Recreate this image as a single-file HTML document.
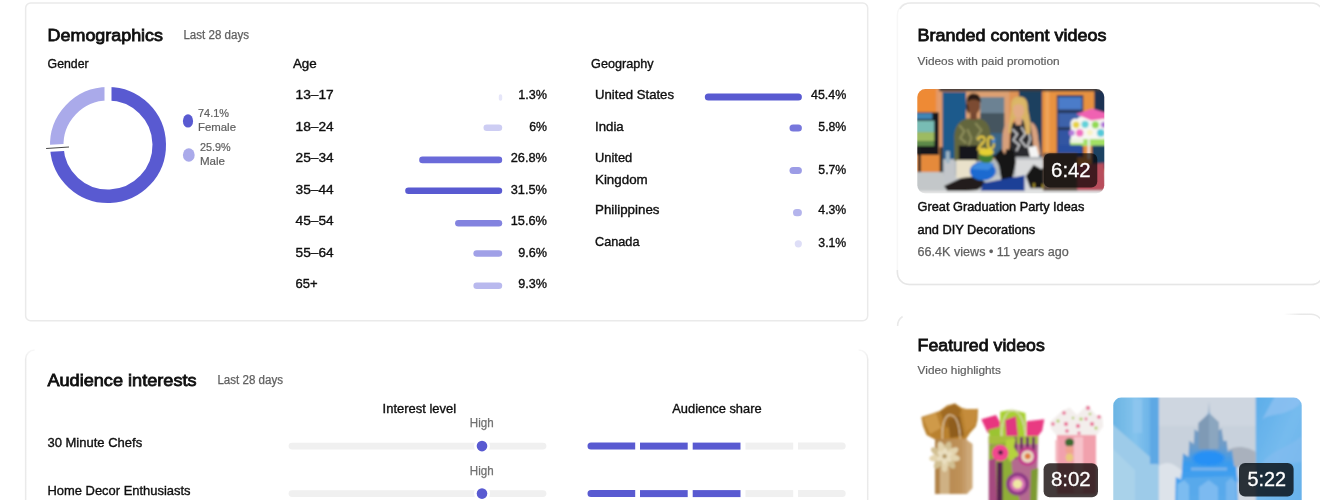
<!DOCTYPE html>
<html lang="en">
<head>
<meta charset="utf-8">
<title>Audience analytics</title>
<style>
html,body{margin:0;padding:0;background:#fff;}
body{width:1320px;height:500px;overflow:hidden;}
svg{display:block;}
text{font-family:"Liberation Sans",sans-serif;}
</style>
</head>
<body>
<svg width="1320" height="500" viewBox="0 0 1320 500">
<g id="shapes">
<rect x="25.65" y="3" width="842.05" height="317.8" rx="5" fill="#fff" stroke="#eaeaea" stroke-width="1.5"/>
<defs><linearGradient id="ag" x1="0" x2="0" y1="349" y2="360" gradientUnits="userSpaceOnUse"><stop offset="0" stop-color="#eaeaea" stop-opacity="0.3"/><stop offset="1" stop-color="#eaeaea"/></linearGradient></defs>
<path d="M34.6 350 A9 9 0 0 0 25.65 359 V520" fill="none" stroke="url(#ag)" stroke-width="1.5"/>
<path d="M858.7 350 A9 9 0 0 1 867.7 359 V520" fill="none" stroke="url(#ag)" stroke-width="1.5"/>
<rect x="897.4" y="3" width="426" height="281.6" rx="12" fill="#fff" stroke="#f7f7f7" stroke-width="1.5"/>
<path d="M900 9 Q903 3 911 3 H1311.4 a12 12 0 0 1 12 12" fill="none" stroke="#e9e9e9" stroke-width="1.5"/>
<path d="M897.4 270 v2.6 a12 12 0 0 0 12 12 H1311.4 a12 12 0 0 0 12 -12" fill="none" stroke="#e6e6e6" stroke-width="1.5"/>
<path d="M897.6 326 a11 11 0 0 1 5 -9.5" fill="none" stroke="#e9e9e9" stroke-width="1.5"/>
<defs><linearGradient id="fg" x1="1284" x2="1300" y1="0" y2="0" gradientUnits="userSpaceOnUse"><stop offset="0" stop-color="#e8e8e8" stop-opacity="0"/><stop offset="1" stop-color="#e8e8e8"/></linearGradient></defs>
<path d="M1284 314.2 H1311 a12 12 0 0 1 12 12" fill="none" stroke="url(#fg)" stroke-width="1.5"/>
<path d="M108.00 93.75 A51.25 51.25 0 1 1 56.83 147.90" fill="none" stroke="#595ad1" stroke-width="13.5"/>
<path d="M56.83 147.90 A51.25 51.25 0 0 1 108.00 93.75" fill="none" stroke="#aaaaea" stroke-width="13.5"/>
<line x1="108.00" y1="105.00" x2="108.00" y2="83.00" stroke="#fff" stroke-width="7"/>
<line x1="68.06" y1="147.26" x2="46.10" y2="148.50" stroke="#fff" stroke-width="7"/>
<line x1="46.1" y1="148.5" x2="69" y2="147" stroke="#3c3c3c" stroke-width="0.95"/>
<ellipse cx="188" cy="120.9" rx="5.1" ry="6.7" fill="#595ad1"/>
<ellipse cx="188.8" cy="155" rx="5.9" ry="6.7" fill="#aaaaea"/>
<rect x="498.8" y="94.2" width="3.4" height="6.6" rx="1.70" fill="#e6e6f9"/>
<rect x="483.5" y="124.4" width="18.7" height="6.6" rx="3.30" fill="#cdcdf3"/>
<rect x="419.2" y="156.6" width="83.0" height="6.6" rx="3.30" fill="#6a6ad9"/>
<rect x="405.2" y="187.5" width="97.0" height="6.6" rx="3.30" fill="#595ad1"/>
<rect x="455.1" y="220.0" width="47.1" height="6.6" rx="3.30" fill="#8383df"/>
<rect x="473.4" y="250.2" width="28.8" height="6.6" rx="3.30" fill="#a0a0e7"/>
<rect x="473.4" y="282.5" width="28.8" height="6.6" rx="3.30" fill="#b9b9ee"/>
<rect x="704.8" y="93.4" width="97.1" height="7.2" rx="3.60" fill="#595ad1"/>
<rect x="789.5" y="124.4" width="12.4" height="7.2" rx="3.60" fill="#7777dc"/>
<rect x="789.5" y="166.9" width="12.4" height="7.2" rx="3.60" fill="#9c9ce6"/>
<rect x="793.0" y="209.1" width="8.9" height="7.2" rx="3.60" fill="#b4b4ec"/>
<rect x="794.7" y="240.2" width="7.2" height="7.2" rx="3.60" fill="#dedef7"/>
<rect x="288.6" y="442.7" width="257.8" height="6.8" rx="3.4" fill="#f0f0f0"/>
<circle cx="482" cy="446.1" r="8" fill="#fff"/>
<circle cx="482" cy="446.1" r="5.3" fill="#595ad1"/>
<path d="M591.0 442.6 H635.2 V449.6 H591.0 a3.5 3.5 0 0 1 0 -7 z" fill="#595ad1"/>
<rect x="640" y="442.6" width="47.7" height="7" fill="#595ad1"/>
<rect x="692.7" y="442.6" width="47.8" height="7" fill="#595ad1"/>
<rect x="745.5" y="442.6" width="47.7" height="7" fill="#f0f0f0"/>
<path d="M798 442.6 H842.2 a3.5 3.5 0 0 1 0 7 H798 z" fill="#f0f0f0"/>
<rect x="288.6" y="490.2" width="257.8" height="6.8" rx="3.4" fill="#f0f0f0"/>
<circle cx="482" cy="493.6" r="8" fill="#fff"/>
<circle cx="482" cy="493.6" r="5.3" fill="#595ad1"/>
<path d="M591.0 490.1 H635.2 V497.1 H591.0 a3.5 3.5 0 0 1 0 -7 z" fill="#595ad1"/>
<rect x="640" y="490.1" width="47.7" height="7" fill="#595ad1"/>
<rect x="692.7" y="490.1" width="47.8" height="7" fill="#595ad1"/>
<rect x="745.5" y="490.1" width="47.7" height="7" fill="#f0f0f0"/>
<path d="M798 490.1 H842.2 a3.5 3.5 0 0 1 0 7 H798 z" fill="#f0f0f0"/>
</g>
<defs>
<clipPath id="c1"><rect x="0" y="0" width="187" height="104.2" rx="8"/></clipPath>
<filter id="bl" x="-5%" y="-5%" width="110%" height="110%"><feGaussianBlur stdDeviation="0.9"/></filter>
<filter id="bl2" x="-10%" y="-10%" width="120%" height="120%"><feGaussianBlur stdDeviation="1.3"/></filter>
</defs>
<!-- thumbnail 1 : TV studio -->
<g transform="translate(917.3,89.1)" clip-path="url(#c1)">
<g filter="url(#bl)">
<rect x="-3" y="-3" width="193" height="110" fill="#e28b45"/>
<!-- left wall -->
<rect x="-3" y="0" width="22" height="60" fill="#ee8a36"/>
<rect x="19" y="0" width="6" height="60" fill="#e39a6a"/>
<!-- blue panel left -->
<rect x="25.2" y="3" width="23.5" height="80" fill="#1d5a8c"/>
<!-- peach wall behind woman 1 -->
<rect x="48.7" y="0" width="44" height="70" fill="#dda072"/>
<!-- painting -->
<rect x="63" y="8" width="24" height="38" fill="#6c8293"/>
<rect x="63" y="24" width="24" height="22" fill="#44555f"/>
<!-- navy panel -->
<rect x="101" y="0" width="24" height="80" fill="#1f3f5f"/>
<rect x="92" y="0" width="9.5" height="60" fill="#df9355"/>
<!-- orange panel right -->
<rect x="125" y="0" width="52" height="80" fill="#e8923f"/>
<rect x="128" y="0" width="4" height="80" fill="#f0a55a"/>
<!-- window right -->
<rect x="139.5" y="6" width="26.5" height="62" fill="#27385c"/>
<rect x="141" y="8" width="23.5" height="12.5" fill="#4c7cc9"/>
<rect x="141" y="24" width="23.5" height="14" fill="#3c62aa"/>
<rect x="141" y="41" width="23.5" height="24" fill="#3355a2"/>
<!-- far right dark -->
<rect x="177" y="0" width="12" height="80" fill="#1f3252"/>
<!-- top dark strip -->
<rect x="22" y="-2" width="170" height="4.2" fill="#3b3a3e"/>
<!-- monitor -->
<rect x="-2" y="23.3" width="23.5" height="42.5" fill="#17191c"/>
<rect x="-2" y="24" width="17" height="6" fill="#3f86b6"/>
<rect x="-2" y="31.5" width="19" height="12" fill="#78bcb4"/>
<rect x="-2" y="43" width="19" height="9" fill="#9dbb62"/>
<rect x="-2" y="52" width="19" height="5" fill="#5d8a4a"/>
<rect x="4.5" y="66.5" width="18" height="15" fill="#e58a3a"/>
<rect x="0.8" y="58" width="2.6" height="40" fill="#1c1c1f"/>
<rect x="22.5" y="58" width="2.6" height="32" fill="#1c1c1f"/>
<!-- table -->
<path d="M6 84 l3 14 M14 84 l-2 14 M20 86 l4 12" stroke="#2a2a2c" stroke-width="1.8" fill="none"/>
<rect x="-3" y="83" width="193" height="24" fill="#c3c7c9"/>
<rect x="26" y="70" width="100" height="16" fill="#b4b9bd"/>
<rect x="72" y="44" width="15" height="24" fill="#3b6585"/>
<!-- woman 1 -->
<path d="M37 52 C36 38 42 31 50 29.5 L62 29.5 C70 31 74 38 73.5 52 L73.5 72 L37 72 Z" fill="#64663e"/>
<path d="M42 36 l5 6 l-4 7 l6 5 M58 34 l6 7 l-5 8 l7 6 M50 40 l4 9 l-3 9" stroke="#8b8c5a" stroke-width="2.2" fill="none"/>
<ellipse cx="56.3" cy="16.5" rx="6.6" ry="9.2" fill="#7b4b31"/>
<path d="M49.3 14 C49 6 53 4.5 56.5 4.5 C61 4.5 64 7.5 63.4 14 C61 9.5 52.5 9 49.3 14 Z" fill="#2a1b16"/>
<path d="M49.5 13 C48 17 49 22 51.5 25 L51 18 Z" fill="#2a1b16"/>
<rect x="53" y="24" width="6.5" height="6.5" fill="#744630"/>
<!-- black box behind props -->
<rect x="41.5" y="56.6" width="19" height="14" fill="#18181a"/>
<!-- woman 2 -->
<path d="M92 34 C87 35 85.5 40 85 50 L85 66 L90.5 66 L91.5 48 Z" fill="#d7a07c"/>
<path d="M93 36 C97 31 108 31 113 35 L116 52 L116 70 L92 70 Z" fill="#2b2b2e"/>
<path d="M95 40 l5 5 l-4 6 l6 5 l-3 6 M104 38 l4 7 l-5 6 l6 7 M111 42 l2 8 l-3 8" stroke="#c9c9cc" stroke-width="1.8" fill="none"/>
<path d="M113 33 C118 34 120.5 40 121 50 L123.5 66 L117 66 L115 48 Z" fill="#d9a27f"/>
<path d="M94 20 C92.5 9 98 7.5 102 7.5 C108 7.5 111 12 110.5 20 C112 28 114 36 113 45 L108 45 C108 38 107 32 105 30 L97 30 C95 33 94 38 93.8 44 L91 44 C91 36 93 28 94 20 Z" fill="#d9b465"/>
<ellipse cx="101.3" cy="21" rx="5.6" ry="8" fill="#e2ac85"/>
<path d="M95.5 18 C96 11 100 10 103 10.5 C106.5 11 108 14 107.4 19 C105 14.5 99 13.5 95.5 18 Z" fill="#dcb768"/>
<path d="M97.5 29 L105 29 L104 36 L98.5 36 Z" fill="#dda680"/>
<!-- white card -->
<path d="M110.7 58 L119 57 L122 67.8 L113 68.5 Z" fill="#f4f4f4"/>
<!-- GRAD sign -->
<path d="M153.5 37 C152 31 157 28 160 30 C162 26 168 26 170 29 C173 25.5 179 26 181 29.5 C184 27 188 28 189 31 L189 56.5 L153.5 56.5 Z" fill="#f7f6f2"/>
<path d="M158.7 25 L175 19.5 L189 24 L189 29.5 L174 31.5 Z" fill="#f062b2"/>
<circle cx="158.8" cy="35.7" r="3.4" fill="#e6d244"/>
<circle cx="167.8" cy="35.2" r="3.6" fill="#62d1d9"/>
<circle cx="178.1" cy="35.7" r="3.6" fill="#93d953"/>
<circle cx="186.5" cy="35.7" r="3" fill="#b078d8"/>
<circle cx="154.5" cy="43.8" r="2.8" fill="#b47cdc"/>
<circle cx="162.4" cy="43.8" r="3.7" fill="#f071c2"/>
<circle cx="183.5" cy="43.8" r="3.8" fill="#52c9d9"/>
<circle cx="172.5" cy="43.5" r="2.8" fill="#f8f2c0"/>
<rect x="153" y="50" width="36" height="6.6" fill="#a3e064"/>
<rect x="153" y="50" width="13" height="4" fill="#eef4e4"/>
<rect x="170.5" y="50" width="2" height="20" fill="#f1f1f1"/>
<!-- dark under sign -->
<rect x="174.6" y="56.6" width="15" height="19" fill="#1b4262"/>
<rect x="141" y="56" width="23" height="12" fill="#2a50a0"/>
<!-- props -->
<rect x="26.8" y="71" width="10.5" height="21.5" fill="#c2c6ca"/>
<rect x="28.5" y="62" width="4" height="12" fill="#9eb5c4"/>
<rect x="39" y="71" width="19.5" height="18" fill="#e9e1ca"/>
<path d="M26.8 97 L44 89 L60.4 86.9 L69.4 94.7 L60 101 L31.3 103.6 Z" fill="#221f1d"/>
<ellipse cx="65.5" cy="82" rx="13" ry="9.5" fill="#1f6ad0"/>
<path d="M54 80 C58 73 70 71 77 75 L71 81 Z" fill="#3c8be0"/>
<ellipse cx="69" cy="68.5" rx="7" ry="5.5" fill="#3f7d35"/>
<ellipse cx="69" cy="63" rx="7.5" ry="3.6" fill="#e6d032"/>
<path d="M60.5 51 c1 -4.5 7 -4.5 7 -0.5 c0 3.5 -6 5 -6.5 9.5 l7 0 M73 47.5 c-3.5 1 -3.5 12 0.5 12 c4 0 4.5 -11 -0.5 -12" stroke="#e2c545" stroke-width="2.2" fill="none"/>
<path d="M74 52 l5 -3 l-2 6 Z" fill="#3d86d8"/>
<path d="M78 66 L84 60 L88 66 L93 58 L97 64 L99 72 L95 90 L84 91 L82 78 Z" fill="#151517"/>
<path d="M76 66 l6 8 M90 60 l-5 22" stroke="#151517" stroke-width="2"/>
<!-- blue cloth -->
<path d="M66 94 L107.4 86 L107.4 106 L62 106 Z" fill="#1c3f97"/>
<!-- table right -->
<path d="M98.4 68 L125.3 68 L126 103 L107.4 103 L107.4 86 L98.4 88 Z" fill="#d9dadb"/>
<rect x="98.4" y="67.8" width="27" height="3" fill="#b5b8bb"/>
<path d="M108.5 86.9 L116.3 75.7 L124.2 80.1 L128.7 75.7 L133.1 83.5 L133.1 99.2 L113 99.2 Z" fill="#141415"/>
<rect x="115.5" y="94" width="2.2" height="5" fill="#9c8a2a"/>
<rect x="124.5" y="95" width="2.5" height="5" fill="#b09a25"/>
<!-- pink bag -->
<path d="M159 76 L187 74 L189 101.4 L157 101.4 Z" fill="#b84d5c"/>
<rect x="126" y="64" width="34" height="38" fill="#5e4e45"/>
<rect x="-3" y="101.8" width="193" height="4" fill="#e4e5e5"/>
</g>
<rect x="126.5" y="64.2" width="53.5" height="34.1" rx="6" fill="#000" fill-opacity="0.66"/>
</g>
<!-- thumbnail 2 : gift bags -->
<defs><clipPath id="c2"><rect x="917.3" y="397.6" width="187" height="110" rx="8"/></clipPath>
<clipPath id="c3"><rect x="1113.2" y="397.6" width="188.5" height="110" rx="8"/></clipPath>
<linearGradient id="kraft" x1="0" x2="1" y1="0" y2="0"><stop offset="0" stop-color="#b08247"/><stop offset="0.8" stop-color="#bf925a"/><stop offset="1" stop-color="#c9a273"/></linearGradient>
<linearGradient id="ls" x1="0" x2="1" y1="0" y2="0"><stop offset="0" stop-color="#69b3e3"/><stop offset="0.5" stop-color="#84c3ec"/><stop offset="1" stop-color="#5eabe6"/></linearGradient>
<linearGradient id="rs" x1="0" x2="1" y1="0" y2="1"><stop offset="0" stop-color="#5cade9"/><stop offset="0.5" stop-color="#76bbee"/><stop offset="1" stop-color="#64b0ea"/></linearGradient>
<linearGradient id="cst" x1="0" x2="0" y1="0" y2="1"><stop offset="0" stop-color="#7d99b6"/><stop offset="0.42" stop-color="#6f9cc8"/><stop offset="0.6" stop-color="#3a9bee"/><stop offset="1" stop-color="#55a8ec"/></linearGradient>
</defs>
<g clip-path="url(#c2)">
<g filter="url(#bl)">
<!-- bag 1 tissue -->
<path d="M921.3 417 L931 414 L940.2 410.8 L947 405.5 L954.9 403.4 L962 408 L969.6 409.7 L978 408.7 L977.5 420 L975.9 426.5 L970 433 L965.4 440 L936 440 L926.6 435 L923 426 Z" fill="#b9812f"/>
<path d="M940 411 L955 403.5 L961 410 L957 424 L946 428 Z" fill="#a06a22"/>
<path d="M923 418 L936 413 L941 428 L930 434 Z" fill="#cf9a4a"/>
<path d="M962 409 L977 409 L975 425 L966 432 Z" fill="#c58c3a"/>
<path d="M948 420 L960 416 L964 436 L950 438 Z" fill="#8f5d1f"/>
<!-- bag 1 body -->
<rect x="935" y="439" width="32" height="55" fill="url(#kraft)"/>
<path d="M967 440 L972.5 444 L972.5 488 L967 494 Z" fill="#cda878"/>
<rect x="940" y="468" width="9.5" height="26" fill="#cfb184"/>
<path d="M942.3 439 C941.5 420 947 414 951 415 C956 416 959.5 424 960.2 439" fill="none" stroke="#e6d2ae" stroke-width="1.1"/>
<!-- flower -->
<ellipse cx="952.7" cy="457.7" rx="7.4" ry="3.6" transform="rotate(10 952.7 457.7)" fill="#e3d4ae"/>
<ellipse cx="949.9" cy="462.6" rx="7.4" ry="3.6" transform="rotate(50 949.9 462.6)" fill="#d2bf92"/>
<ellipse cx="944.6" cy="464.5" rx="7.4" ry="3.6" transform="rotate(90 944.6 464.5)" fill="#e3d4ae"/>
<ellipse cx="939.3" cy="462.6" rx="7.4" ry="3.6" transform="rotate(130 939.3 462.6)" fill="#d2bf92"/>
<ellipse cx="936.5" cy="457.7" rx="7.4" ry="3.6" transform="rotate(170 936.5 457.7)" fill="#e3d4ae"/>
<ellipse cx="937.5" cy="452.2" rx="7.4" ry="3.6" transform="rotate(210 937.5 452.2)" fill="#d2bf92"/>
<ellipse cx="941.8" cy="448.6" rx="7.4" ry="3.6" transform="rotate(250 941.8 448.6)" fill="#e3d4ae"/>
<ellipse cx="947.4" cy="448.6" rx="7.4" ry="3.6" transform="rotate(290 947.4 448.6)" fill="#d2bf92"/>
<ellipse cx="951.7" cy="452.2" rx="7.4" ry="3.6" transform="rotate(330 951.7 452.2)" fill="#e3d4ae"/>
<ellipse cx="947.9" cy="458.6" rx="4.2" ry="2.4" transform="rotate(35 947.9 458.6)" fill="#eadfc0"/>
<ellipse cx="944.3" cy="460.3" rx="4.2" ry="2.4" transform="rotate(95 944.3 460.3)" fill="#eadfc0"/>
<ellipse cx="941.0" cy="458.0" rx="4.2" ry="2.4" transform="rotate(155 941.0 458.0)" fill="#eadfc0"/>
<ellipse cx="941.3" cy="454.0" rx="4.2" ry="2.4" transform="rotate(215 941.3 454.0)" fill="#eadfc0"/>
<ellipse cx="944.9" cy="452.3" rx="4.2" ry="2.4" transform="rotate(275 944.9 452.3)" fill="#eadfc0"/>
<ellipse cx="948.2" cy="454.6" rx="4.2" ry="2.4" transform="rotate(335 948.2 454.6)" fill="#eadfc0"/>
<circle cx="944.6" cy="456.3" r="2.2" fill="#b39660"/>
<!-- bag 2 tissue -->
<path d="M981.3 419.2 L996 415 L1000.2 422.3 L999 436 L987.6 432.8 Z" fill="#e8357f"/>
<path d="M1000.2 411.8 L1012 409.5 L1025.4 412.9 L1026.5 436 L1000.2 436 Z" fill="#a9d033"/>
<path d="M1005 420 L1016 416 L1018 436 L1006 436 Z" fill="#e03880"/>
<path d="M1026.5 421.3 L1044.3 419.2 L1042.2 430.7 L1038 436 L1026.5 436 Z" fill="#e93a82"/>
<path d="M988 430 L1000 427 L1000 437 L990 437 Z" fill="#9bc431"/>
<!-- bag 2 body -->
<path d="M988.7 436 L1038.3 436 L1036.5 502 L988.7 502 Z" fill="#b46a90"/>
<rect x="988.7" y="436" width="49" height="8" fill="#a6bf3e"/>
<path d="M1014 437 h3 v22 h-3 z M1020 437 h3 v14 h-3 z M1026 437 h3 v12 h-3 z M1032 437 h3 v16 h-3 z" fill="#6c2c63"/>
<path d="M989 445 L1010 442 L1012 470 L1020 502 L989 502 Z" fill="#8fae37"/>
<path d="M989 460 L996 458 L997 502 L989 502 Z" fill="#a5497f"/>
<rect x="997" y="462" width="5.6" height="40" fill="#54204d"/>
<circle cx="1027.5" cy="456.5" r="9.6" fill="#c33d8c"/>
<circle cx="1027.5" cy="456.5" r="6.2" fill="#e9dcc3"/>
<circle cx="1027.7" cy="456.3" r="3" fill="#e07a3a"/>
<circle cx="1017.5" cy="484" r="11.5" fill="#8f3a86"/>
<circle cx="1017.5" cy="484" r="7.8" fill="#d873b4"/>
<circle cx="1017.5" cy="484" r="4.6" fill="#f0e8a4"/>
<path d="M1006 440 L1016 438 L1014 447 L1019 455 L1010 462 L1005 452 Z" fill="#b5d33c"/>
<circle cx="1000.2" cy="453" r="8.3" fill="#f2478f"/>
<circle cx="1000.6" cy="452.5" r="2.3" fill="#3f2140"/>
<path d="M1031 470 L1038 468 L1037 502 L1030 502 Z" fill="#7d9a33"/>
<path d="M1001.7 436 C1001.5 419 1007 410.5 1012 410.5 C1019 410.5 1024.5 420 1025.5 436" fill="none" stroke="#f3dfe3" stroke-width="1"/>
<!-- bag 3 tissue -->
<path d="M1049.7 422.3 L1062.3 410.8 L1069.7 407.6 L1077 415 L1087.5 404.5 L1095.9 415 L1102.2 416 L1103.3 426.5 L1095.9 436 L1057 436 L1050.8 428.6 Z" fill="#f3eeec"/>
<g fill="#e8628f"><circle cx="1053" cy="424" r="1.7"/><circle cx="1064" cy="413" r="1.8"/><circle cx="1066" cy="424" r="2"/><circle cx="1067" cy="431" r="1.8"/><circle cx="1078" cy="426" r="2"/><circle cx="1079" cy="433" r="1.6"/><circle cx="1088" cy="408" r="1.9"/><circle cx="1092" cy="424" r="2"/><circle cx="1099" cy="417" r="1.8"/><circle cx="1086" cy="419" r="1.4"/></g>
<g fill="#a9c944"><circle cx="1058" cy="421" r="1.5"/><circle cx="1081" cy="419" r="1.6"/><circle cx="1090" cy="414" r="1.3"/><circle cx="1096" cy="428" r="1.5"/><circle cx="1073" cy="418" r="1.2"/></g>
<!-- bag 3 body -->
<rect x="1057" y="435" width="39" height="59" fill="#f1a1ad"/>
<rect x="1074" y="437" width="9" height="56" fill="#f6c3cb"/>
<rect x="1055.5" y="440" width="3" height="22" fill="#f4b5bd"/>
<ellipse cx="1069.5" cy="442.5" rx="4.6" ry="4.2" fill="#3e6b31"/>
<ellipse cx="1069.5" cy="450" rx="4" ry="4" fill="#f0a38f"/>
<ellipse cx="1069.5" cy="457.5" rx="3.8" ry="4" fill="#e9c97c"/>
</g>
<rect x="1043.6" y="463.2" width="54.4" height="34" rx="6" fill="#140a0a" fill-opacity="0.8"/>
</g>
<!-- thumbnail 3 : ice castle -->
<g clip-path="url(#c3)">
<g filter="url(#bl)">
<rect x="1112" y="396" width="192" height="110" fill="#c8d1dc"/>
<rect x="1158" y="396" width="98" height="30" fill="#ced6e0"/>
<rect x="1112" y="396" width="46.7" height="110" fill="url(#ls)"/>
<path d="M1112 424 L1158.7 464.5 L1158.7 506 L1112 506 Z" fill="#9dcbe9"/>
<path d="M1112 448 L1135 470 L1135 506 L1112 506 Z" fill="#a9d2ea"/>
<rect x="1133" y="399" width="9" height="34" fill="#8fc6ef" opacity="0.8"/>
<rect x="1150" y="398" width="8.7" height="66" fill="#5da8e4"/>
<rect x="1255.7" y="396" width="48" height="110" fill="url(#rs)"/>
<path d="M1262 420 C1270 412 1284 418 1300 404 L1302 396 L1275 396 Z" fill="#8dc1f1" opacity="0.8"/>
<path d="M1258 470 C1268 450 1280 452 1302 436 L1302 462 L1285 464 Z" fill="#86bdf0" opacity="0.6"/>
<!-- clouds / snow -->
<path d="M1158.7 466 C1170 458 1178 468 1186 474 L1190 506 L1158.7 506 Z" fill="#dde3ea"/>
<path d="M1228 450 C1238 444 1250 448 1255.7 452 L1255.7 468 L1232 468 Z" fill="#a9b1bd"/>
<path d="M1232 468 L1255.7 464 L1255.7 506 L1232 506 Z" fill="#d3d9e1"/>
<!-- halo -->
<g filter="url(#bl2)"><path d="M1209 412 L1240 482 L1176 488 Z" fill="#6fb0ee" opacity="0.7"/></g>
<!-- castle -->
<path d="M1209 401.2 L1209.5 413.7 L1218.4 422 L1218.6 431 L1221.5 428.2 L1223.4 441 L1226.7 440.7 L1227.8 452 L1232 450 L1234 466 L1236.5 467 L1238 506 L1175 506 L1175.8 477 L1181.5 480 L1183 453.2 L1188.6 457 L1189.3 440.7 L1193.8 444 L1194.5 429.3 L1198.4 432 L1198.6 423 L1208.5 413.7 Z" fill="url(#cst)"/>
<path d="M1198.6 423 L1209 413.7 L1218.4 422 L1218.4 449 L1198.6 449 Z" fill="#7f9ab5"/>
<path d="M1209 413.7 L1218.4 422 L1218.4 449 L1209 449 Z" fill="#8ba6bf"/>
<g filter="url(#bl2)"><ellipse cx="1208.5" cy="458" rx="16" ry="7.5" fill="#2590f5"/></g>
<rect x="1191" y="467.5" width="36" height="3" fill="#79b3ea"/>
<path d="M1184 478 L1234 476 L1236 506 L1180 506 Z" fill="#5caaea" opacity="0.85"/>
<path d="M1199 506 L1199 487 L1208.7 480 L1218 487 L1218 506 Z" fill="#7bbaf0"/>
<path d="M1177 506 L1177.5 484 L1184 480 L1189 485 L1189 506 Z" fill="#7cbcf0"/>
<path d="M1226 506 L1226 482 L1231 478 L1236 482 L1236.5 506 Z" fill="#74b6ee"/>
</g>
<rect x="1239" y="463" width="54.6" height="33.6" rx="6" fill="#0d151c" fill-opacity="0.86"/>
</g>

<g id="labels">
<text x="47.6" y="40.9" font-size="17.4" font-weight="400" fill="#0f0f0f" textLength="115.4" lengthAdjust="spacingAndGlyphs" stroke="#0f0f0f" stroke-width="0.8">Demographics</text>
<text x="183.4" y="39.0" font-size="12" font-weight="400" fill="#606060" textLength="65.6" lengthAdjust="spacingAndGlyphs" stroke="#606060" stroke-width="0.25">Last 28 days</text>
<text x="47.6" y="67.5" font-size="13" font-weight="400" fill="#0f0f0f" textLength="41.0" lengthAdjust="spacingAndGlyphs" stroke="#0f0f0f" stroke-width="0.36">Gender</text>
<text x="292.9" y="67.5" font-size="13" font-weight="400" fill="#0f0f0f" textLength="23.8" lengthAdjust="spacingAndGlyphs" stroke="#0f0f0f" stroke-width="0.36">Age</text>
<text x="591.1" y="67.9" font-size="13" font-weight="400" fill="#0f0f0f" textLength="62.6" lengthAdjust="spacingAndGlyphs" stroke="#0f0f0f" stroke-width="0.36">Geography</text>
<text x="198.0" y="117.1" font-size="11.5" font-weight="400" fill="#606060" textLength="31.0" lengthAdjust="spacingAndGlyphs" stroke="#606060" stroke-width="0.2">74.1%</text>
<text x="198.0" y="130.7" font-size="11.5" font-weight="400" fill="#606060" textLength="38.0" lengthAdjust="spacingAndGlyphs" stroke="#606060" stroke-width="0.2">Female</text>
<text x="199.9" y="151.2" font-size="11.5" font-weight="400" fill="#606060" textLength="30.7" lengthAdjust="spacingAndGlyphs" stroke="#606060" stroke-width="0.2">25.9%</text>
<text x="199.9" y="164.6" font-size="11.5" font-weight="400" fill="#606060" textLength="25.1" lengthAdjust="spacingAndGlyphs" stroke="#606060" stroke-width="0.2">Male</text>
<text x="295.6" y="98.8" font-size="13" font-weight="400" fill="#0f0f0f" textLength="38.1" lengthAdjust="spacingAndGlyphs" stroke="#0f0f0f" stroke-width="0.36">13–17</text>
<text x="518.2" y="98.8" font-size="13" font-weight="400" fill="#0f0f0f" textLength="28.8" lengthAdjust="spacingAndGlyphs" stroke="#0f0f0f" stroke-width="0.36">1.3%</text>
<text x="295.6" y="130.7" font-size="13" font-weight="400" fill="#0f0f0f" textLength="38.1" lengthAdjust="spacingAndGlyphs" stroke="#0f0f0f" stroke-width="0.36">18–24</text>
<text x="529.2" y="130.7" font-size="13" font-weight="400" fill="#0f0f0f" textLength="17.8" lengthAdjust="spacingAndGlyphs" stroke="#0f0f0f" stroke-width="0.36">6%</text>
<text x="295.6" y="161.6" font-size="13" font-weight="400" fill="#0f0f0f" textLength="38.1" lengthAdjust="spacingAndGlyphs" stroke="#0f0f0f" stroke-width="0.36">25–34</text>
<text x="510.7" y="161.6" font-size="13" font-weight="400" fill="#0f0f0f" textLength="36.3" lengthAdjust="spacingAndGlyphs" stroke="#0f0f0f" stroke-width="0.36">26.8%</text>
<text x="295.6" y="194.0" font-size="13" font-weight="400" fill="#0f0f0f" textLength="38.1" lengthAdjust="spacingAndGlyphs" stroke="#0f0f0f" stroke-width="0.36">35–44</text>
<text x="510.7" y="194.0" font-size="13" font-weight="400" fill="#0f0f0f" textLength="36.3" lengthAdjust="spacingAndGlyphs" stroke="#0f0f0f" stroke-width="0.36">31.5%</text>
<text x="295.6" y="224.8" font-size="13" font-weight="400" fill="#0f0f0f" textLength="38.1" lengthAdjust="spacingAndGlyphs" stroke="#0f0f0f" stroke-width="0.36">45–54</text>
<text x="510.7" y="224.8" font-size="13" font-weight="400" fill="#0f0f0f" textLength="36.3" lengthAdjust="spacingAndGlyphs" stroke="#0f0f0f" stroke-width="0.36">15.6%</text>
<text x="295.6" y="256.7" font-size="13" font-weight="400" fill="#0f0f0f" textLength="38.1" lengthAdjust="spacingAndGlyphs" stroke="#0f0f0f" stroke-width="0.36">55–64</text>
<text x="518.2" y="256.7" font-size="13" font-weight="400" fill="#0f0f0f" textLength="28.8" lengthAdjust="spacingAndGlyphs" stroke="#0f0f0f" stroke-width="0.36">9.6%</text>
<text x="295.6" y="287.7" font-size="13" font-weight="400" fill="#0f0f0f" textLength="22.1" lengthAdjust="spacingAndGlyphs" stroke="#0f0f0f" stroke-width="0.36">65+</text>
<text x="518.2" y="287.7" font-size="13" font-weight="400" fill="#0f0f0f" textLength="28.8" lengthAdjust="spacingAndGlyphs" stroke="#0f0f0f" stroke-width="0.36">9.3%</text>
<text x="595.0" y="98.8" font-size="13" font-weight="400" fill="#0f0f0f" textLength="79.0" lengthAdjust="spacingAndGlyphs" stroke="#0f0f0f" stroke-width="0.36">United States</text>
<text x="811.0" y="98.8" font-size="13" font-weight="400" fill="#0f0f0f" textLength="35.3" lengthAdjust="spacingAndGlyphs" stroke="#0f0f0f" stroke-width="0.36">45.4%</text>
<text x="595.0" y="131.2" font-size="13" font-weight="400" fill="#0f0f0f" textLength="28.7" lengthAdjust="spacingAndGlyphs" stroke="#0f0f0f" stroke-width="0.36">India</text>
<text x="818.3" y="131.2" font-size="13" font-weight="400" fill="#0f0f0f" textLength="28.0" lengthAdjust="spacingAndGlyphs" stroke="#0f0f0f" stroke-width="0.36">5.8%</text>
<text x="595.0" y="161.7" font-size="13" font-weight="400" fill="#0f0f0f" textLength="37.3" lengthAdjust="spacingAndGlyphs" stroke="#0f0f0f" stroke-width="0.36">United</text>
<text x="818.3" y="173.7" font-size="13" font-weight="400" fill="#0f0f0f" textLength="28.0" lengthAdjust="spacingAndGlyphs" stroke="#0f0f0f" stroke-width="0.36">5.7%</text>
<text x="595.0" y="214.2" font-size="13" font-weight="400" fill="#0f0f0f" textLength="64.5" lengthAdjust="spacingAndGlyphs" stroke="#0f0f0f" stroke-width="0.36">Philippines</text>
<text x="818.3" y="214.2" font-size="13" font-weight="400" fill="#0f0f0f" textLength="28.0" lengthAdjust="spacingAndGlyphs" stroke="#0f0f0f" stroke-width="0.36">4.3%</text>
<text x="595.0" y="246.4" font-size="13" font-weight="400" fill="#0f0f0f" textLength="44.5" lengthAdjust="spacingAndGlyphs" stroke="#0f0f0f" stroke-width="0.36">Canada</text>
<text x="818.3" y="246.5" font-size="13" font-weight="400" fill="#0f0f0f" textLength="28.0" lengthAdjust="spacingAndGlyphs" stroke="#0f0f0f" stroke-width="0.36">3.1%</text>
<text x="595.0" y="184.0" font-size="13" font-weight="400" fill="#0f0f0f" textLength="52.7" lengthAdjust="spacingAndGlyphs" stroke="#0f0f0f" stroke-width="0.36">Kingdom</text>
<text x="47.4" y="386.0" font-size="17.4" font-weight="400" fill="#0f0f0f" textLength="149.2" lengthAdjust="spacingAndGlyphs" stroke="#0f0f0f" stroke-width="0.8">Audience interests</text>
<text x="217.4" y="384.4" font-size="12" font-weight="400" fill="#606060" textLength="65.6" lengthAdjust="spacingAndGlyphs" stroke="#606060" stroke-width="0.25">Last 28 days</text>
<text x="47.4" y="447.4" font-size="13" font-weight="400" fill="#0f0f0f" textLength="94.8" lengthAdjust="spacingAndGlyphs" stroke="#0f0f0f" stroke-width="0.36">30 Minute Chefs</text>
<text x="47.4" y="494.5" font-size="13" font-weight="400" fill="#0f0f0f" textLength="143.2" lengthAdjust="spacingAndGlyphs" stroke="#0f0f0f" stroke-width="0.36">Home Decor Enthusiasts</text>
<text x="382.6" y="413.2" font-size="13" font-weight="400" fill="#0f0f0f" textLength="73.5" lengthAdjust="spacingAndGlyphs" stroke="#0f0f0f" stroke-width="0.36">Interest level</text>
<text x="672.3" y="413.2" font-size="13" font-weight="400" fill="#0f0f0f" textLength="89.3" lengthAdjust="spacingAndGlyphs" stroke="#0f0f0f" stroke-width="0.36">Audience share</text>
<text x="469.8" y="427.1" font-size="12" font-weight="400" fill="#707070" textLength="23.8" lengthAdjust="spacingAndGlyphs" stroke="#707070" stroke-width="0.25">High</text>
<text x="469.8" y="474.6" font-size="12" font-weight="400" fill="#707070" textLength="23.8" lengthAdjust="spacingAndGlyphs" stroke="#707070" stroke-width="0.25">High</text>
<text x="917.6" y="40.6" font-size="17.4" font-weight="400" fill="#0f0f0f" textLength="189.0" lengthAdjust="spacingAndGlyphs" stroke="#0f0f0f" stroke-width="0.8">Branded content videos</text>
<text x="917.6" y="64.6" font-size="11.5" font-weight="400" fill="#606060" textLength="142.0" lengthAdjust="spacingAndGlyphs" stroke="#606060" stroke-width="0.2">Videos with paid promotion</text>
<text x="917.6" y="210.8" font-size="13" font-weight="400" fill="#0f0f0f" textLength="166.7" lengthAdjust="spacingAndGlyphs" stroke="#0f0f0f" stroke-width="0.45">Great Graduation Party Ideas</text>
<text x="917.6" y="234.3" font-size="13" font-weight="400" fill="#0f0f0f" textLength="117.6" lengthAdjust="spacingAndGlyphs" stroke="#0f0f0f" stroke-width="0.45">and DIY Decorations</text>
<text x="917.6" y="256.4" font-size="13" font-weight="400" fill="#606060" textLength="151.1" lengthAdjust="spacingAndGlyphs" stroke="#606060" stroke-width="0.25">66.4K views • 11 years ago</text>
<text x="917.6" y="350.5" font-size="17.4" font-weight="400" fill="#0f0f0f" textLength="127.2" lengthAdjust="spacingAndGlyphs" stroke="#0f0f0f" stroke-width="0.8">Featured videos</text>
<text x="917.6" y="374.0" font-size="11.5" font-weight="400" fill="#606060" textLength="83.2" lengthAdjust="spacingAndGlyphs" stroke="#606060" stroke-width="0.2">Video highlights</text>
<text x="1051.1" y="176.8" font-size="20" font-weight="400" fill="#fff" textLength="39.6" lengthAdjust="spacingAndGlyphs" stroke="#fff" stroke-width="0.3">6:42</text>
<text x="1051.0" y="486.1" font-size="20" font-weight="400" fill="#fff" textLength="39.7" lengthAdjust="spacingAndGlyphs" stroke="#fff" stroke-width="0.3">8:02</text>
<text x="1247.5" y="486.1" font-size="20" font-weight="400" fill="#fff" textLength="38.6" lengthAdjust="spacingAndGlyphs" stroke="#fff" stroke-width="0.3">5:22</text>
</g>
</svg>
</body>
</html>
